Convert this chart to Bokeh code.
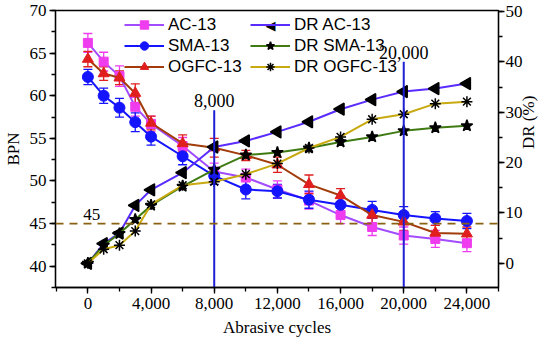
from bokeh.plotting import figure
from bokeh.models import (ColumnDataSource, Range1d, LinearAxis, FixedTicker, NumeralTickFormatter,
                          Whisker, TeeHead, Span, Label, Legend, LegendItem)
from bokeh.embed import file_html
from bokeh.resources import INLINE
import numpy as np

cycles = [0, 1000, 2000, 3000, 4000, 6000, 8000, 10000, 12000, 14000, 16000, 18000, 20000, 22000, 24000]
bpn_ac = [66.2, 64.0, 62.3, 58.7, 56.7, 54.1, 51.1, 50.4, 49.0, 47.7, 46.0, 44.6, 43.6, 43.2, 42.7]
bpn_sma = [62.2, 60.0, 58.6, 56.9, 55.2, 52.9, 50.6, 49.0, 48.8, 47.8, 47.2, 46.6, 46.0, 45.6, 45.3]
bpn_ogfc = [64.3, 62.6, 62.1, 60.3, 56.8, 54.4, 53.9, 53.0, 51.9, 49.6, 48.3, 46.0, 45.2, 43.9, 43.8]
err_ac = [1.1, 1.1, 1.2, 1.1, 0.9, 1.0, 1.0, 1.0, 1.0, 1.0, 1.0, 1.0, 1.0, 1.0, 1.0]
err_sma = [0.9, 0.9, 1.1, 1.1, 1.0, 1.0, 1.0, 1.1, 0.8, 1.0, 1.0, 1.0, 1.0, 0.8, 0.9]
err_ogfc = [0.9, 0.8, 0.8, 1.1, 0.8, 1.0, 1.1, 0.6, 0.9, 1.1, 0.8, 1.0, 1.0, 0.9, 0.8]
dr_ac = [0, 3.9, 6.0, 11.5, 14.6, 18.0, 23.1, 24.3, 26.1, 28.1, 30.6, 32.5, 34.1, 34.7, 35.7]
dr_sma = [0, 3.6, 5.9, 8.7, 11.5, 15.3, 18.6, 21.5, 22.0, 22.9, 24.1, 25.1, 26.3, 26.9, 27.3]
dr_ogfc = [0, 2.8, 3.6, 6.4, 11.7, 15.5, 16.2, 17.7, 19.8, 22.9, 25.1, 28.6, 29.6, 31.7, 32.1]

x_ticks = [0, 4000, 8000, 12000, 16000, 20000, 24000]
bpn_ticks = [40, 45, 50, 55, 60, 65, 70]
dr_ticks = [0, 10, 20, 30, 40, 50]

threshold_bpn = 45
marked_cycles = [8000, 20000]
marked_tops = [58.3, 64.0]
marked_labels = ["8,000", "20,000"]

SERIF = "Liberation Serif"
SANS = "Liberation Sans"

p = figure(width=550, height=345, output_backend="svg", toolbar_location=None,
           x_range=Range1d(-2050, 26000), y_range=Range1d(37.5, 70.0),
           min_border_left=51, min_border_right=48, min_border_top=10, min_border_bottom=58)
p.extra_y_ranges = {"dr": Range1d(-4.8, 50.2)}
p.xgrid.visible = False
p.ygrid.visible = False
p.outline_line_color = "black"
p.outline_line_width = 1.3
p.background_fill_color = "white"
p.border_fill_color = "white"

def style_axis(ax):
    ax.axis_line_color = "black"
    ax.axis_line_width = 1.3
    ax.major_tick_in = 0
    ax.major_tick_out = 6
    ax.minor_tick_in = 0
    ax.minor_tick_out = 4
    ax.major_tick_line_width = 1.3
    ax.minor_tick_line_width = 1.3
    ax.major_label_text_font = SERIF
    ax.major_label_text_font_size = "17px"
    ax.major_label_text_color = "black"
    ax.axis_label_text_font = SERIF
    ax.axis_label_text_font_size = "17px"
    ax.axis_label_text_font_style = "normal"
    ax.axis_label_text_color = "black"

xa = p.xaxis[0]
xa.ticker = FixedTicker(ticks=x_ticks, minor_ticks=list(range(-2000, 26001, 2000)))
xa.formatter = NumeralTickFormatter(format="0,0")
xa.axis_label = "Abrasive cycles"
style_axis(xa)
xa.major_label_standoff = 4
xa.axis_label_standoff = 6

ya = p.yaxis[0]
ya.ticker = FixedTicker(ticks=bpn_ticks, minor_ticks=list(np.arange(37.5, 70.1, 2.5)))
ya.axis_label = "BPN"
style_axis(ya)
ya.major_label_standoff = 3
ya.axis_label_standoff = 4

ra = LinearAxis(y_range_name="dr", axis_label="DR (%)")
ra.ticker = FixedTicker(ticks=dr_ticks, minor_ticks=list(range(-5, 51, 5)))
style_axis(ra)
ra.major_label_standoff = 1
ra.axis_label_standoff = 3
if "axis_label_orientation" in ra.properties():
    ra.axis_label_orientation = np.pi / 2
p.add_layout(ra, "right")

def bpn_series(vals, errs, line_color, mcolor, marker, size):
    src = ColumnDataSource(dict(x=cycles, y=vals,
                                lo=[v - e for v, e in zip(vals, errs)],
                                hi=[v + e for v, e in zip(vals, errs)]))
    w = Whisker(source=src, base="x", upper="hi", lower="lo", line_color=mcolor, line_width=1.3,
                upper_head=TeeHead(size=9, line_color=mcolor, line_width=1.3),
                lower_head=TeeHead(size=9, line_color=mcolor, line_width=1.3))
    p.add_layout(w)
    lr = p.line("x", "y", source=src, line_color=line_color, line_width=2)
    sr = p.scatter("x", "y", source=src, marker=marker, size=size, fill_color=mcolor, line_color=mcolor)
    return [lr, sr]

r_ac = bpn_series(bpn_ac, err_ac, "#a24cff", "#ee3cee", "square", 9)
r_sma = bpn_series(bpn_sma, err_sma, "#1414ff", "#1414ff", "circle", 11)
r_ogfc = bpn_series(bpn_ogfc, err_ogfc, "#a23c0a", "#e01e1e", "triangle", 11)

def dr_series(vals, line_color, marker, size, angle=0.0):
    src = ColumnDataSource(dict(x=cycles, y=vals, ang=[angle] * len(cycles)))
    lr = p.line("x", "y", source=src, line_color=line_color, line_width=2, y_range_name="dr")
    sr = p.scatter("x", "y", source=src, marker=marker, size=size, angle="ang", angle_units="rad",
                   fill_color="black", line_color="black", line_width=1.5, y_range_name="dr")
    return [lr, sr]

r_dac = dr_series(dr_ac, "#5a2cff", "triangle", 12, angle=np.pi / 2)
r_dsma = dr_series(dr_sma, "#3f7a12", "star", 12)
r_dogfc = dr_series(dr_ogfc, "#c8aa10", "asterisk", 11)

# vertical markers at selected cycles
vsrc = ColumnDataSource(dict(x=marked_cycles, top=marked_tops, bottom=[37.5] * len(marked_cycles)))
p.segment(x0="x", y0="bottom", x1="x", y1="top", source=vsrc, line_color="#1f1fd6", line_width=2)
for xc, yt, lab in zip(marked_cycles, marked_tops, marked_labels):
    p.add_layout(Label(x=xc, y=yt, text=lab, text_align="center", text_baseline="bottom",
                       y_offset=3, text_font=SERIF, text_font_size="18px", text_color="black"))

p.add_layout(Span(location=threshold_bpn, dimension="width", line_color="#8a6012",
                  line_width=1.6, line_dash="8 6"))
p.add_layout(Label(x=250, y=threshold_bpn, text=str(threshold_bpn), text_align="center",
                   text_baseline="bottom", y_offset=4, text_font=SERIF, text_font_size="17px",
                   text_color="black"))

def make_legend(items, loc):
    lg = Legend(items=items, location=loc, orientation="vertical",
                label_text_font=SANS, label_text_font_size="17px", label_text_color="black",
                glyph_width=40, glyph_height=21, label_height=21, label_standoff=4,
                spacing=0, padding=0, margin=0, border_line_color=None,
                background_fill_alpha=0.0)
    p.add_layout(lg, "center")

leg1_loc = (69, 210)
leg2_loc = (195, 210)
make_legend([LegendItem(label="AC-13", renderers=r_ac),
             LegendItem(label="SMA-13", renderers=r_sma),
             LegendItem(label="OGFC-13", renderers=r_ogfc)], leg1_loc)
# the legend does not rotate markers, so the DR AC-13 entry shows its line and a
# left-pointing triangle symbol drawn over the legend glyph
make_legend([LegendItem(label="DR AC-13", renderers=[r_dac[0]]),
             LegendItem(label="DR SMA-13", renderers=r_dsma),
             LegendItem(label="DR OGFC-13", renderers=r_dogfc)], leg2_loc)
p.add_layout(Label(x=leg2_loc[0] + 20, y=leg2_loc[1] + 63 - 10.5, x_units="screen", y_units="screen",
                   text="\u25C0", text_align="center", text_baseline="middle",
                   text_font="DejaVu Sans", text_font_size="13px", text_color="black"))

open("out.html", "w").write(file_html(p, INLINE))
